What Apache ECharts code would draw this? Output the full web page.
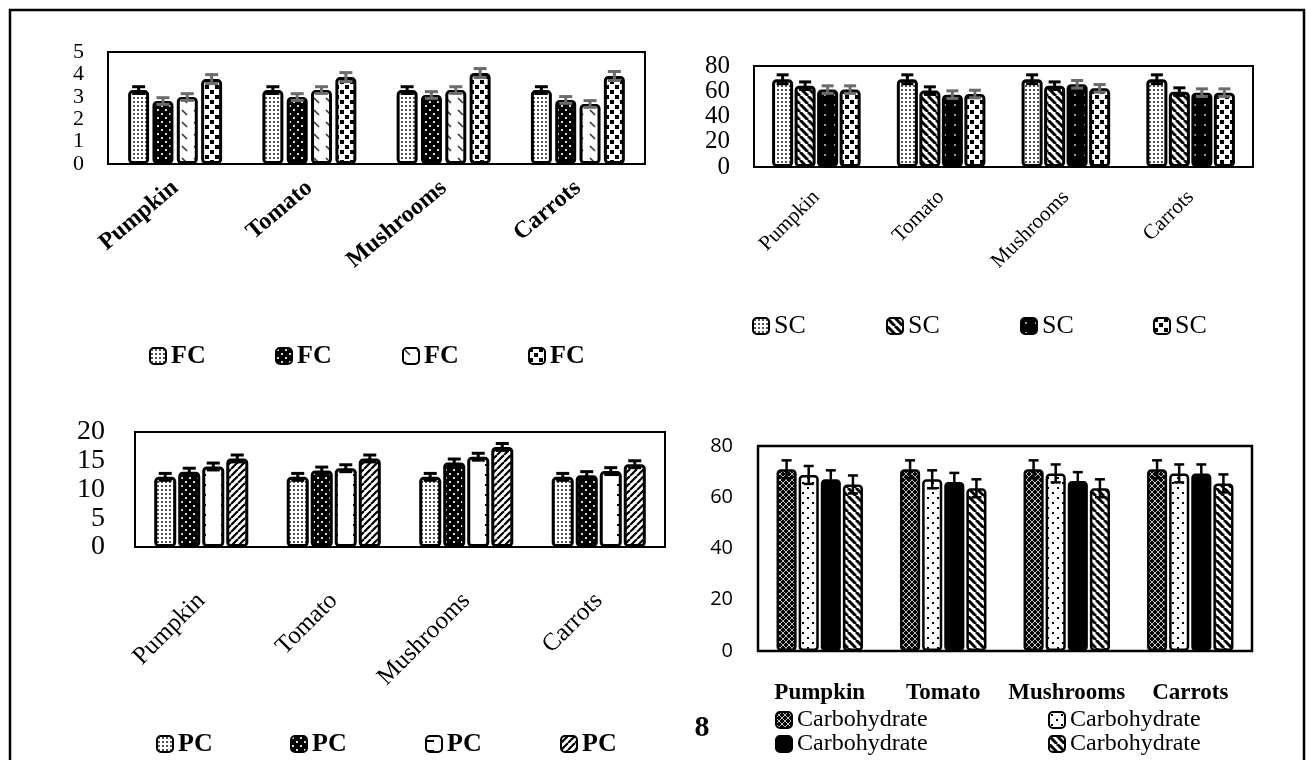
<!DOCTYPE html>
<html><head><meta charset="utf-8">
<script src="https://cdn.jsdelivr.net/npm/echarts/dist/echarts.min.js"></script>
<style>html,body{margin:0;padding:0;background:#fff}#c{width:1307px;height:760px}</style>
</head><body><div id="c"></div>
<script>
// ---------- DATA ----------
const categories = ['Pumpkin', 'Tomato', 'Mushrooms', 'Carrots'];
const fcLabel = 'FC', scLabel = 'SC', pcLabel = 'PC', carbLabel = 'Carbohydrate';
// one row per series (4 series per panel), one value per category
const fcValues = [[3.3,3.3,3.3,3.3],[2.81,2.99,3.08,2.86],[2.99,3.3,3.3,2.68],[3.79,3.88,4.06,3.93]];
const fcErrors = [[0.15,0.15,0.15,0.15],[0.15,0.15,0.15,0.15],[0.15,0.15,0.15,0.15],[0.2,0.2,0.2,0.2]];
const scValues = [[69.5,69.5,69.5,69.5],[64.4,60.5,64.4,59.7],[61.3,57.3,65.5,58.9],[61.3,57.8,62.3,58.9]];
const scErrors = [[3.5,3.5,3.5,3.5],[3,3,3,3],[3,3,3,3],[3,3,3,3]];
const pcValues = [[12.2,12.2,12.2,12.2],[13.1,13.3,14.7,12.5],[14,13.7,15.7,13.2],[15.4,15.4,17.4,14.4]];
const pcErrors = [[0.6,0.6,0.6,0.6],[0.6,0.6,0.6,0.6],[0.6,0.6,0.6,0.6],[0.6,0.6,0.6,0.6]];
const carbValues = [[70.9,70.9,70.9,70.9],[68.7,67,69.3,69.3],[67,66,66.3,69.3],[65,63.5,63.5,65.4]];
const carbErrors = [[3.5,3.5,3.5,3.5],[3.5,3.5,3.5,3.5],[3.5,3.5,3.5,3.5],[3.5,3.5,3.5,3.5]];
const pageNumber = '8';

// ---------- PATTERNS ----------
function makePattern(w, h, bg, draw) {
  const c = document.createElement('canvas'); c.width = w; c.height = h;
  const g = c.getContext('2d'); g.fillStyle = bg; g.fillRect(0, 0, w, h); draw(g);
  return { image: c, repeat: 'repeat' };
}
const P = {
  lightDots: makePattern(4,4,'#fff',g=>{g.fillStyle='#555';g.fillRect(1,1,2,2);}),
  blackDots: makePattern(8,8,'#000',g=>{g.fillStyle='#ddd';g.fillRect(1,1,2,2);g.fillRect(5,5,2,2);}),
  diagDash: makePattern(12,12,'#fff',g=>{g.strokeStyle='#333';g.lineWidth=1.6;g.beginPath();g.moveTo(2,2);g.lineTo(7,7);g.stroke();}),
  checker: makePattern(10,10,'#fff',g=>{g.fillStyle='#000';g.fillRect(0,0,4,4);g.fillRect(5,5,4,4);}),
  backStripes: makePattern(8,8,'#fff',g=>{g.strokeStyle='#000';g.lineWidth=3;for(let i=-1;i<=1;i++){g.beginPath();g.moveTo(i*8,0);g.lineTo(i*8+8,8);g.stroke();}}),
  fwdStripes: makePattern(7,7,'#fff',g=>{g.strokeStyle='#000';g.lineWidth=2.2;for(let i=-1;i<=1;i++){g.beginPath();g.moveTo(i*7,7);g.lineTo(i*7+7,0);g.stroke();}}),
  blackSparse: makePattern(10,10,'#000',g=>{g.fillStyle='#999';g.fillRect(4,4,2,2);}),
  hDash: makePattern(22,10,'#fff',g=>{g.fillStyle='#000';g.fillRect(1,4,7,2);}),
  cross: makePattern(6,6,'#000',g=>{g.strokeStyle='#bbb';g.lineWidth=1;g.beginPath();g.moveTo(0,0);g.lineTo(6,6);g.moveTo(6,0);g.lineTo(0,6);g.stroke();}),
  whiteDots: makePattern(10,10,'#fff',g=>{g.fillStyle='#000';g.fillRect(2,2,2,2);g.fillRect(7,7,2,2);})
};

const SERIF = 'Liberation Serif';

// ---------- SERIES BUILDER ----------
function errRenderer(idx, n, catGap, barGap, color, cap, lw) {
  return function (params, api) {
    const ci = api.value(0), v = api.value(1), e = api.value(2);
    const band = api.size([1, 0])[0];
    const gw = band * (1 - catGap);
    const w = gw / (n + (n - 1) * barGap);
    const p = api.coord([ci, v]);
    const x = p[0] - gw / 2 + w / 2 + idx * w * (1 + barGap);
    const yt = api.coord([ci, v + e])[1], yb = api.coord([ci, v - e])[1];
    const st = { stroke: color, lineWidth: lw };
    return { type: 'group', children: [
      { type: 'line', shape: { x1: x, y1: yt, x2: x, y2: yb }, style: st },
      { type: 'line', shape: { x1: x - cap / 2, y1: yt, x2: x + cap / 2, y2: yt }, style: st },
      { type: 'line', shape: { x1: x - cap / 2, y1: yb, x2: x + cap / 2, y2: yb }, style: st }
    ]};
  };
}
function panelSeries(gi, label, values, errors, fills, errColors, catGap, barGap, cap, lw, bw) {
  const out = [];
  values.forEach((vals, i) => {
    out.push({
      type: 'bar', name: label + '#' + (i + 1), xAxisIndex: gi, yAxisIndex: gi, data: vals,
      barGap: (barGap * 100) + '%', barCategoryGap: (catGap * 100) + '%',
      itemStyle: { color: fills[i], borderColor: '#000', borderWidth: bw, borderRadius: 3 },
      silent: true, z: 2
    });
  });
  values.forEach((vals, i) => {
    out.push({
      type: 'custom', xAxisIndex: gi, yAxisIndex: gi, silent: true, z: 5,
      data: vals.map((v, k) => [k, v, errors[i][k]]),
      encode: { x: 0, y: 1 },
      renderItem: errRenderer(i, values.length, catGap, barGap, errColors[i], cap, lw)
    });
  });
  return out;
}

const series = [].concat(
  panelSeries(0, fcLabel, fcValues, fcErrors, [P.lightDots, P.blackDots, P.diagDash, P.checker],
    ['#000', '#6b6b6b', '#6b6b6b', '#6b6b6b'], 0.30, 0.16, 13, 3, 3),
  panelSeries(1, scLabel, scValues, scErrors, [P.lightDots, P.backStripes, P.blackSparse, P.checker],
    ['#000', '#000', '#6b6b6b', '#6b6b6b'], 0.29, 0.07, 12, 3, 3),
  panelSeries(2, pcLabel, pcValues, pcErrors, [P.lightDots, P.blackDots, P.hDash, P.fwdStripes],
    ['#000', '#000', '#000', '#000'], 0.29, 0.09, 13, 3, 3),
  panelSeries(3, carbLabel, carbValues, carbErrors, [P.cross, P.whiteDots, '#000', P.backStripes],
    ['#000', '#000', '#000', '#000'], 0.30, 0.10, 10, 2.5, 2.5)
);

const gridStyle = { show: true, borderColor: '#000', borderWidth: 2, backgroundColor: 'transparent' };
const grids = [
  Object.assign({ left: 108, top: 52, width: 537, height: 112 }, gridStyle),
  Object.assign({ left: 754, top: 66, width: 499, height: 101 }, gridStyle),
  Object.assign({ left: 135, top: 432, width: 530, height: 115 }, gridStyle),
  Object.assign({ left: 758, top: 446, width: 494, height: 205 }, gridStyle, { borderWidth: 2.5 })
];
function xAx(gi, label) {
  return { type: 'category', gridIndex: gi, data: categories, axisTick: { show: false },
    axisLine: { show: false }, axisLabel: Object.assign({ interval: 0, color: '#000', fontFamily: SERIF }, label) };
}
function yAx(gi, min, max, interval, label) {
  return { type: 'value', gridIndex: gi, min: min, max: max, interval: interval,
    splitLine: { show: false }, axisLine: { show: false }, axisTick: { show: false },
    axisLabel: Object.assign({ color: '#000', fontFamily: SERIF }, label) };
}
const fmt = n => n.split('#')[0];
// one legend component per item so that item spacing is exact
function legendRow(label, ids, lefts, tops, textStyle) {
  return ids.map((id, k) => ({
    data: [label + '#' + id], left: lefts[k], top: tops[k], padding: 0,
    itemWidth: 16, itemHeight: 16, itemGap: 5, icon: 'roundRect', selectedMode: false,
    formatter: fmt, itemStyle: { borderWidth: 2, borderColor: '#000' },
    textStyle: Object.assign({ color: '#000', fontFamily: SERIF, padding: [0, 0, 0, 0] }, textStyle)
  }));
}

const option = {
  animation: false,
  backgroundColor: '#fff',
  grid: grids,
  xAxis: [
    xAx(0, { rotate: 40, fontWeight: 'bold', fontSize: 24, margin: 21 }),
    xAx(1, { rotate: 45, fontSize: 21, margin: 27 }),
    xAx(2, { rotate: 45, fontSize: 25, margin: 50 }),
    xAx(3, { rotate: 0, fontWeight: 'bold', fontSize: 23, margin: 31 })
  ],
  yAxis: [
    yAx(0, 0, 5, 1, { fontSize: 22, margin: 24 }),
    yAx(1, 0, 80, 20, { fontSize: 25, margin: 24 }),
    yAx(2, 0, 20, 5, { fontSize: 28, margin: 30 }),
    yAx(3, 0, 80, 20, { fontSize: 20, margin: 25, fontFamily: 'Open Sans' })
  ],
  legend: [].concat(
    legendRow(fcLabel, [1,2,3,4], [149,275,402,528], [343,343,343,343], { fontSize: 26, fontWeight: 'bold' }),
    legendRow(scLabel, [1,2,3,4], [752,886,1020,1153], [313,313,313,313], { fontSize: 26 }),
    legendRow(pcLabel, [1,2,3,4], [156,290,425,560], [731,731,731,731], { fontSize: 26, fontWeight: 'bold' }),
    legendRow(carbLabel, [1,2,3,4], [775,1048,775,1048], [708,708,732,732], { fontSize: 24, lineHeight: 23 })
  ),
  graphic: [
    { type: 'rect', silent: true, shape: { x: 10, y: 10, width: 1294, height: 760 },
      style: { fill: 'none', stroke: '#000', lineWidth: 2.5 } },
    { type: 'text', silent: true, x: 702, y: 728,
      style: { text: pageNumber, fontSize: 30, fontWeight: 'bold', fontFamily: SERIF, fill: '#000', align: 'center', verticalAlign: 'middle' } }
  ],
  series: series
};
const chart = echarts.init(document.getElementById('c'), null, { renderer: 'canvas' });
chart.setOption(option);
</script></body></html>
